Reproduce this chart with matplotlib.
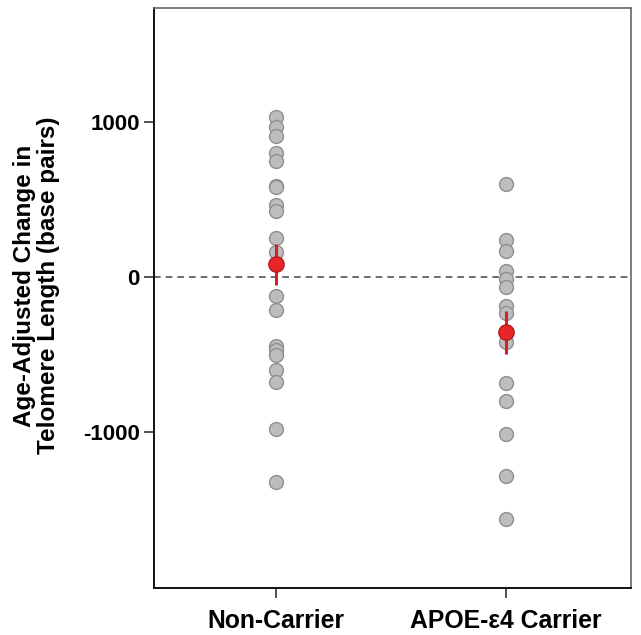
import matplotlib
matplotlib.use("Agg")
import matplotlib.pyplot as plt

plt.rcParams['font.family'] = ['Liberation Sans', 'DejaVu Sans']

# donnees
groups = ["Non-Carrier", "APOE-\u03b54 Carrier"]
non_carrier = [1032, 963, 910, 796, 748, 587, 576, 465, 421, 250, 157,
               -123, -213, -445, -477, -503, -602, -682, -983, -1323]
carrier = [598, 239, 168, 34, -15, -69, -191, -237, -424, -688, -800,
           -1019, -1284, -1563]
means = [82, -359]
err_low = [134, 140]
err_high = [129, 140]
yticks = [-1000, 0, 1000]

fig = plt.figure(figsize=(6.41, 6.35), dpi=100)
ax = fig.add_axes([0.240, 0.074, 0.744, 0.913])

for i, vals in enumerate([non_carrier, carrier]):
    ax.plot([i] * len(vals), vals, 'o', ms=10, mfc='#bdbdbd', mec='#8f8f8f',
            mew=1.0, ls='none', zorder=2)

ax.axhline(0, color='#555555', lw=1.2, ls=(0, (4, 3)), zorder=1)

ax.errorbar([0, 1], means, yerr=[err_low, err_high], fmt='o', ms=11,
            mfc='#e8262a', mec='#b01a1d', mew=1.0, ecolor='#d42028',
            elinewidth=2.2, capsize=0, zorder=3)

ax.set_xlim(-0.53, 1.543)
ax.set_ylim(-2010, 1732)
ax.set_xticks([0, 1])
ax.set_xticklabels(groups, fontsize=17.8, fontweight='bold')
ax.set_yticks(yticks)
ax.set_yticklabels([str(t) for t in yticks], fontsize=16, fontweight='bold')
ax.tick_params(axis='x', length=7, width=1.2, pad=8, color='#333333')
ax.tick_params(axis='y', length=7, width=1.2, pad=3, color='#333333')

ax.set_ylabel("Age-Adjusted Change in\nTelomere Length (base pairs)",
              fontsize=17.5, fontweight='bold', linespacing=1.05)
ax.yaxis.set_label_coords(-0.197, 0.522)

for s in ['left', 'bottom']:
    ax.spines[s].set_color('#111111')
    ax.spines[s].set_linewidth(1.4)
for s in ['top', 'right']:
    ax.spines[s].set_color('#666666')
    ax.spines[s].set_linewidth(1.2)

plt.savefig("out.png", dpi=100)
